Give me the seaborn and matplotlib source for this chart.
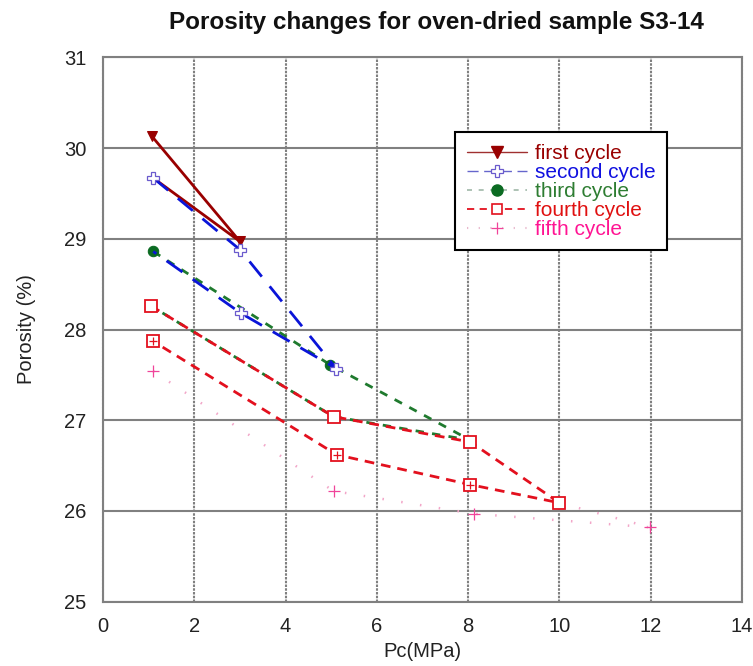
import matplotlib
matplotlib.use("Agg")
import matplotlib.pyplot as plt
from matplotlib.lines import Line2D
import seaborn as sns
import pandas as pd

# ---- data ----
cycle_names = ["first cycle", "second cycle", "third cycle", "fourth cycle", "fifth cycle"]

x_first = [1.07, 3.0, 1.1]
y_first = [30.13, 28.97, 29.67]

x_second = [1.1, 3.0, 5.11, 3.02, 1.1]
y_second = [29.67, 28.88, 27.57, 28.18, 28.86]

x_third = [1.1, 4.98, 8.05, 5.05, 1.05]
y_third = [28.86, 27.61, 26.78, 27.04, 28.26]

x_fourth = [1.05, 5.05, 8.05, 10.0, 8.05, 5.12, 1.1]
y_fourth = [28.26, 27.04, 26.76, 26.09, 26.29, 26.62, 27.87]

x_fifth = [1.1, 5.05, 8.12, 11.99, 10.0]
y_fifth = [27.54, 26.22, 25.97, 25.82, 26.09]

x_ticks = [0, 2, 4, 6, 8, 10, 12, 14]
y_ticks = [25, 26, 27, 28, 29, 30, 31]

# ---- style ----
sns.set_theme(style="white")
plt.rcParams["font.family"] = ["Liberation Sans", "DejaVu Sans"]

c_first = "#990000"
c_second = "#0a14d8"
c_second_mk = "#6a5acd"
c_third = "#1f7a2e"
c_third_mk = "#0b6b22"
c_fourth = "#e3101e"
c_fifth_line = "#f2a6c8"
c_fifth = "#f0449a"

fig = plt.figure(figsize=(7.53, 6.66), dpi=100)
ax = fig.add_axes([0.1368, 0.0965, 0.8486, 0.8175])

def draw(xs, ys, **kw):
    df = pd.DataFrame({"x": xs, "y": ys})
    sns.lineplot(data=df, x="x", y="y", sort=False, estimator=None, ax=ax, **kw)

draw(x_first, y_first, color=c_first, lw=2.0, marker="v", markersize=7.5,
     markerfacecolor=c_first, markeredgecolor=c_first, markevery=[0, 1], zorder=5)
draw(x_second, y_second, color=c_second, lw=2.0, dashes=(7, 4.5), marker="P",
     markersize=8.5, markerfacecolor="white", markeredgecolor=c_second_mk,
     markeredgewidth=0.9, markevery=[0, 1, 2, 3], zorder=6)
draw(x_third, y_third, color=c_third, lw=2.0, dashes=(3, 3), marker="o",
     markersize=7.5, markerfacecolor=c_third_mk, markeredgecolor=c_third_mk,
     markevery=[0, 1], zorder=4)
draw(x_fourth, y_fourth, color=c_fourth, lw=2.0, dashes=(3.5, 2.5), marker="s",
     markersize=8, markerfacecolor="white", markeredgecolor=c_fourth,
     markeredgewidth=1.3, zorder=5)
# small crosses inside the unloading squares of the fourth cycle
sns.scatterplot(x=x_fourth[4:], y=y_fourth[4:], marker="+", s=30, color=c_fourth,
                linewidth=0.9, ax=ax, zorder=7)
draw(x_fifth, y_fifth, color=c_fifth_line, lw=1.8, dashes=(0.6, 7), marker="+",
     markersize=9, markeredgecolor=c_fifth, markeredgewidth=0.9,
     markevery=[0, 1, 2, 3], zorder=3)

ax.set_xlim(0, 14)
ax.set_ylim(25, 31)
ax.set_xticks(x_ticks)
ax.set_yticks(y_ticks)
ax.tick_params(axis="y", length=0, labelsize=14.5, colors="#222222", pad=12)
ax.tick_params(axis="x", length=0, labelsize=14.5, colors="#222222", pad=11)
ax.set_xlabel("Pc(MPa)", fontsize=14.5, color="#222222", labelpad=4)
ax.set_ylabel("Porosity (%)", fontsize=14.5, color="#222222", labelpad=20)

ax.grid(axis="y", color="#808080", lw=1.5)
ax.grid(axis="x", color="#808080", lw=1.5, linestyle=(0, (1.2, 0.6)))
for side in ["top", "bottom"]:
    ax.spines[side].set_color("#808080")
    ax.spines[side].set_linewidth(1.5)
for side in ["left", "right"]:
    ax.spines[side].set_color("#808080")
    ax.spines[side].set_linewidth(1.5)
    ax.spines[side].set_linestyle((0, (1.2, 0.6)))
ax.set_axisbelow(True)

fig.text(0.579, 0.966, "Porosity changes for oven-dried sample S3-14",
         ha="center", va="center", fontsize=17.5, fontweight="bold", color="#111111")

handles = [
    Line2D([], [], color="#a03030", lw=1.0, marker="v", markersize=8,
           markerfacecolor=c_first, markeredgecolor=c_first),
    Line2D([], [], color="#6666cc", lw=1.0, dashes=(8, 4), marker="P", markersize=8.5,
           markerfacecolor="white", markeredgecolor=c_second_mk, markeredgewidth=0.9),
    Line2D([], [], color="#a0b8a8", lw=1.2, dashes=(3, 4), marker="o", markersize=8,
           markerfacecolor=c_third_mk, markeredgecolor=c_third_mk),
    Line2D([], [], color=c_fourth, lw=1.3, dashes=(4, 3), marker="s", markersize=7.5,
           markerfacecolor="white", markeredgecolor=c_fourth, markeredgewidth=1.2),
    Line2D([], [], color="#e8b8cc", lw=1.5, dashes=(0.6, 5), marker="+", markersize=9,
           markeredgecolor=c_fifth, markeredgewidth=0.9),
]
leg = ax.legend(handles, cycle_names, loc="upper left", bbox_to_anchor=(0.551, 0.862),
                fontsize=15, frameon=True, fancybox=False, handlelength=2.9,
                handletextpad=0.4, labelspacing=0.0, borderpad=0.55, borderaxespad=0,
                labelcolor=[c_first, "#1010e0", "#2e7d32", "#e01010", "#ff1493"])
leg.get_frame().set_edgecolor("black")
leg.get_frame().set_linewidth(1.5)
leg.get_frame().set_alpha(1)

fig.savefig("out.png", dpi=100)
